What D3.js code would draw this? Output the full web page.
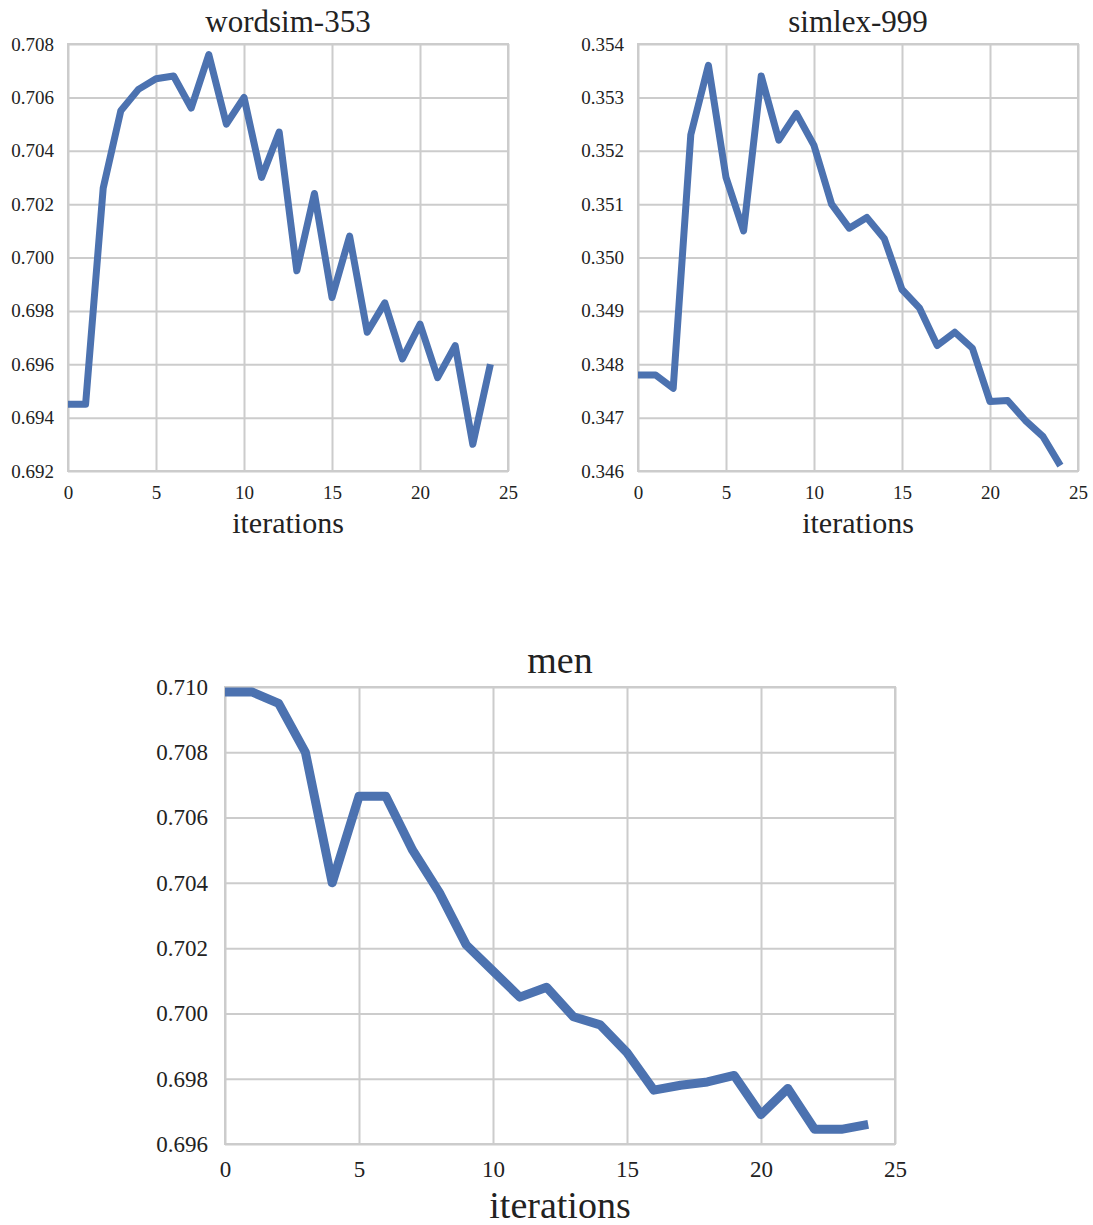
<!DOCTYPE html>
<html>
<head>
<meta charset="utf-8">
<script src="https://cdn.jsdelivr.net/npm/d3@7"></script>
<style>
  body { margin: 0; background: #fff; }
  text { font-family: "Liberation Serif", "Times New Roman", serif; fill: #222; }
</style>
</head>
<body>
<script>
const iterations = d3.range(25)

const wordsim = [0.6945, 0.6945, 0.7026, 0.7055, 0.7063, 0.7067, 0.7068, 0.7056, 0.7076, 0.7050,
    0.7060, 0.7030, 0.7047, 0.6995, 0.7024, 0.6985, 0.7008, 0.6972, 0.6983, 0.6962,
    0.6975, 0.6955, 0.6967, 0.6930, 0.6960]

const simlex = [0.3478, 0.3478, 0.34755, 0.3523, 0.3536, 0.3515, 0.3505, 0.3534, 0.3522, 0.3527,
    0.3521, 0.3510, 0.35055, 0.35075, 0.35035, 0.3494, 0.34905, 0.34835, 0.3486, 0.3483,
    0.3473, 0.34732, 0.34695, 0.34665, 0.3461]

const men = [0.70985, 0.70985, 0.7095, 0.7080, 0.7040, 0.70665, 0.70665, 0.7050, 0.7037, 0.7021,
    0.7013, 0.7005, 0.7008, 0.6999, 0.69965, 0.6988, 0.69765, 0.6978, 0.6979, 0.6981,
    0.6969, 0.6977, 0.69645, 0.69645, 0.6966]

const xTicks = [0, 5, 10, 15, 20, 25]
const wordsimTicks = [0.692, 0.694, 0.696, 0.698, 0.700, 0.702, 0.704, 0.706, 0.708]
const simlexTicks = [0.346, 0.347, 0.348, 0.349, 0.350, 0.351, 0.352, 0.353, 0.354]
const menTicks = [0.696, 0.698, 0.700, 0.702, 0.704, 0.706, 0.708, 0.710]

const serif = '"Liberation Serif", "Times New Roman", serif'

const svg = d3.select('body').append('svg')
    .attr('width', 1093)
    .attr('height', 1225)

// one panel = seaborn whitegrid look
function panel(opts) {
    const { left, top, width, height, values, yTicks, title, fs } = opts
    const g = svg.append('g').attr('transform', `translate(${left}, ${top})`)

    const x = d3.scaleLinear().domain([0, 25]).range([0, width])
    const y = d3.scaleLinear().domain(d3.extent(yTicks)).range([height, 0])

    const xAxis = d3.axisBottom(x).tickValues(xTicks).tickSize(-height).tickPadding(fs.xPad)
    const yAxis = d3.axisLeft(y).tickValues(yTicks).tickSize(-width).tickPadding(fs.yPad)
        .tickFormat(d3.format('.3f'))

    const gx = g.append('g')
        .attr('transform', `translate(0, ${height})`)
        .call(xAxis)
    const gy = g.append('g').call(yAxis)

    for (const ax of [gx, gy]) {
        ax.select('.domain').remove()
        ax.selectAll('line').attr('stroke', '#cccccc').attr('stroke-width', 2)
        ax.selectAll('text')
            .style('font-family', serif)
            .style('font-size', fs.tick + 'px')
            .style('fill', '#222')
    }

    g.append('rect')
        .attr('width', width)
        .attr('height', height)
        .attr('fill', 'none')
        .attr('stroke', '#cccccc')
        .attr('stroke-width', 2)

    const line = d3.line()
        .x((d, i) => x(iterations[i]))
        .y(d => y(d))

    g.append('path')
        .datum(values)
        .attr('d', line)
        .attr('fill', 'none')
        .attr('stroke', '#4c72b0')
        .attr('stroke-width', fs.line)
        .attr('stroke-linejoin', 'round')

    g.append('text')
        .attr('x', width / 2)
        .attr('y', -fs.titleGap)
        .attr('text-anchor', 'middle')
        .style('font-size', fs.title + 'px')
        .text(title)

    g.append('text')
        .attr('x', width / 2)
        .attr('y', height + fs.labelGap)
        .attr('text-anchor', 'middle')
        .style('font-size', fs.label + 'px')
        .text('iterations')
}

const smallFonts = { tick: 19, title: 31, label: 30, line: 7, titleGap: 12, labelGap: 62, xPad: 15, yPad: 14 }
const bigFonts = { tick: 23, title: 38, label: 38, line: 9, titleGap: 14, labelGap: 74, xPad: 17, yPad: 17 }

panel({ left: 68, top: 44, width: 440, height: 427, values: wordsim, yTicks: wordsimTicks, title: 'wordsim-353', fs: smallFonts })
panel({ left: 638, top: 44, width: 440, height: 427, values: simlex, yTicks: simlexTicks, title: 'simlex-999', fs: smallFonts })
panel({ left: 225, top: 687, width: 670, height: 457, values: men, yTicks: menTicks, title: 'men', fs: bigFonts })
</script>
</body>
</html>
